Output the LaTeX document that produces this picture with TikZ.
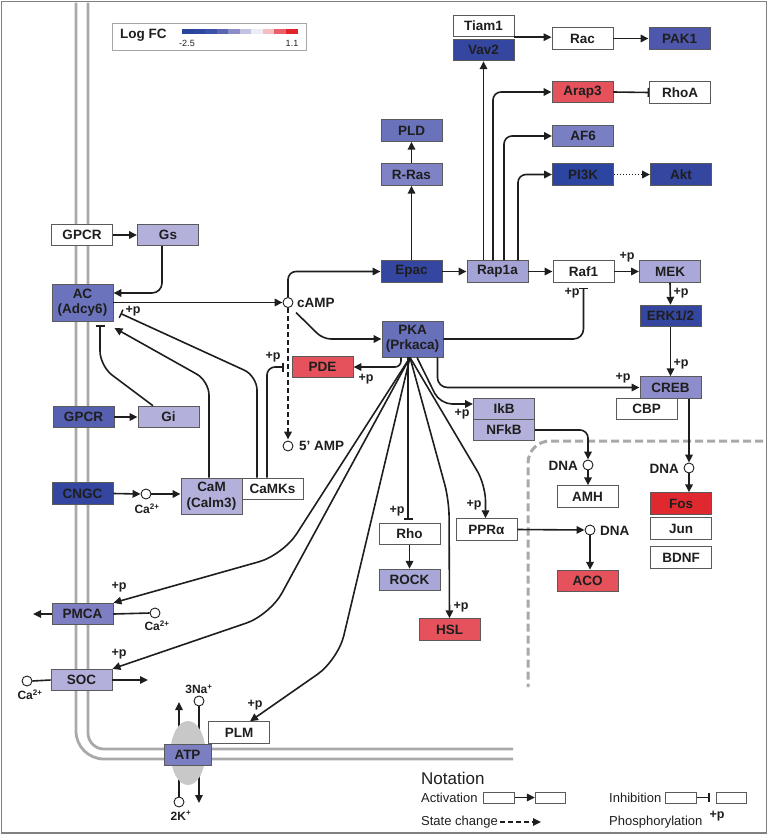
\documentclass[tikz,border=0pt]{standalone}
\usepackage{fontspec}
\setmainfont{Liberation Sans}
\usetikzlibrary{arrows.meta,shapes.geometric}
\definecolor{txt}{HTML}{1E1E1E}
\definecolor{boxline}{HTML}{5A5A5A}
\definecolor{memg}{HTML}{A9A9A9}
\definecolor{ellg}{HTML}{C8C8C8}
\definecolor{cDark}{HTML}{3446A0}
\definecolor{cPI}{HTML}{2C45A0}
\definecolor{cGP}{HTML}{5560B0}
\definecolor{cPAK}{HTML}{4E57AB}
\definecolor{cAC}{HTML}{6B73BC}
\definecolor{cPKA}{HTML}{6870BA}
\definecolor{cPLD}{HTML}{6A72BB}
\definecolor{cRRas}{HTML}{7F83C5}
\definecolor{cAF}{HTML}{7A7EC2}
\definecolor{cPMCA}{HTML}{7E7EC2}
\definecolor{cATP}{HTML}{7B7EC1}
\definecolor{cCREB}{HTML}{8E8DCB}
\definecolor{cRap}{HTML}{A3A3D5}
\definecolor{cMEK}{HTML}{A9A8D8}
\definecolor{cROCK}{HTML}{A8A7D8}
\definecolor{cLight}{HTML}{B3B1DB}
\definecolor{cRed}{HTML}{E5525B}
\definecolor{cFos}{HTML}{E0292E}
\definecolor{Lg1}{HTML}{2A449C}
\definecolor{Lg2}{HTML}{2E479F}
\definecolor{Lg3}{HTML}{3C52A6}
\definecolor{Lg4}{HTML}{5B66B3}
\definecolor{Lg5}{HTML}{8B8CC8}
\definecolor{Lg6}{HTML}{C4C2E2}
\definecolor{Lg7}{HTML}{ECECF5}
\definecolor{Lg8}{HTML}{F5BDC2}
\definecolor{Lg9}{HTML}{EB6068}
\definecolor{Lg10}{HTML}{E3232B}
\tikzset{
  box/.style={draw=boxline, line width=0.9pt, minimum width=61pt, minimum height=21.5pt,
    inner sep=0pt, font=\bfseries\fontsize{13.5}{15.5}\selectfont, text=txt, align=center},
  tall/.style={box, minimum height=36.5pt},
  dot/.style={circle, draw=txt, fill=white, line width=0.9pt, minimum size=10pt, inner sep=0pt},
  lbl/.style={font=\bfseries\fontsize{13.5}{15.5}\selectfont, text=txt, inner sep=0pt},
  plbl/.style={font=\bfseries\fontsize{12.5}{14}\selectfont, text=txt, inner sep=0pt},
  ionlbl/.style={font=\bfseries\fontsize{12}{14}\selectfont, text=txt, inner sep=0pt},
  conn/.style={line width=1.6pt, draw=txt},
  arr/.style={conn, -{Triangle[length=8pt,width=7.5pt]}},
  inh/.style={conn, -{Bar[width=9pt,line width=1.5pt]}},
  statearr/.style={arr, dash pattern=on 5pt off 3pt},
  dotarr/.style={arr, dash pattern=on 1.5pt off 1.5pt},
  membrane/.style={draw=memg, line width=2.8pt},
  nucmem/.style={draw=memg, line width=3pt, dash pattern=on 8pt off 4pt},
  frame/.style={draw=gray, line width=1.2pt},
  nbox/.style={draw=boxline, line width=0.8pt, fill=white, minimum width=30.5pt, minimum height=11pt, inner sep=0pt},
  ntxt/.style={font=\fontsize{13}{15}\selectfont, text=txt, inner sep=0pt, anchor=west}
}
\begin{document}
\begin{tikzpicture}[x=1pt,y=-1pt]
\useasboundingbox (0,0) rectangle (770,835);
\draw[frame] (1.5,1.5) rectangle (766.5,833);

% membranes
\draw[membrane, rounded corners=28pt] (76,2.5) -- (76,759) -- (513,759);
\draw[membrane, rounded corners=16pt] (88,2.5) -- (88,749) -- (513,749);
\draw[nucmem, rounded corners=22pt] (763,441) -- (528,441) -- (528,687);

% legend
\draw[draw=gray!70, line width=1pt, fill=white] (112,23) rectangle (306,50);
\node[lbl, anchor=west] (logfc) at (120,35.5) {Log FC};
\foreach \c [count=\i] in {Lg1,Lg2,Lg3,Lg4,Lg5,Lg6,Lg7,Lg8,Lg9,Lg10}
  \fill[\c] ({182+(\i-1)*11.55},29) rectangle ({182+\i*11.55},34);
\node[font=\fontsize{9}{10}\selectfont, text=txt, inner sep=0pt] (lmin) at (187,43) {-2.5};
\node[font=\fontsize{9}{10}\selectfont, text=txt, inner sep=0pt] (lmax) at (292,43) {1.1};

% ATP pump ions (drawn below the ellipse)
\coordinate (atpc) at (188,753);
\node[dot] (na) at (199,701) {};
\node[ionlbl] (nalbl) at (199,689.5) {3Na\textsuperscript{+}};
\node[dot] (kk) at (179,802) {};
\node[ionlbl] (klbl) at (181,815.5) {2K\textsuperscript{+}};
\coordinate (naout) at (179,702);
\coordinate (kout) at (199,803);
\draw[conn] (na.south) -- (na |- atpc);
\draw[arr] (naout |- atpc) -- (naout);
\draw[conn] (kk.north) -- (kk |- atpc);
\draw[arr] (kout |- atpc) -- (kout);
\node[ellipse, fill=ellg, minimum width=35pt, minimum height=64pt, inner sep=0pt] (ell) at (atpc) {};

% nodes
\node[box, fill=white] (gpcr1) at (82,235) {GPCR};
\node[box, fill=cLight] (gs) at (168,235) {Gs};
\node[box, fill=cAC, minimum height=37pt] (ac) at (82.5,302.5) {AC\\(Adcy6)};
\node[dot] (camp) at (288,302.5) {};
\node[lbl, anchor=west] (camplbl) at (297,302.5) {cAMP};
\node[dot] (amp5) at (288,446) {};
\node[lbl, anchor=west] (amplbl) at (299,446) {5’ AMP};
\node[box, fill=cGP] (gpcr2) at (83.5,417) {GPCR};
\node[box, fill=cLight] (gi) at (168.5,417) {Gi};
\node[box, fill=cDark] (cngc) at (82.5,493.5) {CNGC};
\node[dot] (ca1) at (146,494) {};
\node[ionlbl] (ca1lbl) at (147,509) {Ca\textsuperscript{2+}};
\node[tall, fill=cLight, minimum height=36pt] (cam) at (211.5,496) {CaM\\(Calm3)};
\node[box, fill=white, minimum height=21pt] (camks) at (272.5,488.5) {CaMKs};
\node[box, fill=cRed] (pde) at (322.5,367) {PDE};
\node[box, fill=cDark] (epac) at (411.5,271.5) {Epac};
\node[box, fill=cRap] (rap) at (497.5,271.5) {Rap1a};
\node[box, fill=white] (raf) at (583.5,271.5) {Raf1};
\node[box, fill=cMEK] (mek) at (670,271.5) {MEK};
\node[box, fill=cDark] (erk) at (670.5,316) {ERK1/2};
\node[box, fill=white] (cbp) at (646.5,409) {CBP};
\node[box, fill=cCREB] (creb) at (670.5,387.5) {CREB};
\node[tall, fill=cPKA, minimum height=36pt] (pka) at (412.5,339) {PKA\\(Prkaca)};
\node[box, fill=cLight, minimum height=21pt] (ikb) at (504,409) {IkB};
\node[box, fill=cLight, minimum height=21pt] (nfkb) at (504,430) {NFkB};
\node[box, fill=white] (rho) at (409.5,534) {Rho};
\node[box, fill=cROCK] (rock) at (409.5,580) {ROCK};
\node[box, fill=cRed] (hsl) at (449.5,629.5) {HSL};
\node[box, fill=white] (ppr) at (486.5,529.5) {PPRα};
\node[dot] (dna3) at (590,530) {};
\node[lbl, anchor=west] (dna3lbl) at (600,531) {DNA};
\node[box, fill=cRed] (aco) at (587.5,581) {ACO};
\node[box, fill=white] (amh) at (587.5,496.5) {AMH};
\node[dot] (dna1) at (588,465) {};
\node[lbl, anchor=east] (dna1lbl) at (578,466) {DNA};
\node[dot] (dna2) at (689,468) {};
\node[lbl, anchor=east] (dna2lbl) at (679,469) {DNA};
\node[box, fill=cFos] (fos) at (681,503.5) {Fos};
\node[box, fill=white] (jun) at (681,528.5) {Jun};
\node[box, fill=white] (bdnf) at (681,557.5) {BDNF};
\node[box, fill=white] (tiam) at (483.5,26) {Tiam1};
\node[box, fill=cDark] (vav) at (483.5,50) {Vav2};
\node[box, fill=white] (rac) at (582.5,38.5) {Rac};
\node[box, fill=cPAK] (pak) at (679.5,38.5) {PAK1};
\node[box, fill=cRed] (arap) at (582.5,92) {Arap3};
\node[box, fill=white] (rhoa) at (680,92.5) {RhoA};
\node[box, fill=cAF] (af6) at (583,136) {AF6};
\node[box, fill=cPI] (pi3k) at (583,174.5) {PI3K};
\node[box, fill=cDark] (akt) at (681,174.5) {Akt};
\node[box, fill=cPLD] (pld) at (411.5,130.5) {PLD};
\node[box, fill=cRRas] (rras) at (411.5,174.5) {R-Ras};
\node[box, fill=cPMCA] (pmca) at (82.5,614) {PMCA};
\node[box, fill=cLight] (soc) at (81.5,680) {SOC};
\node[box, fill=cATP, minimum width=47pt] (atp) at (187.5,755) {ATP};
\node[box, fill=white] (plm) at (239,732.5) {PLM};
\node[dot] (ca2) at (155,613) {};
\node[ionlbl] (ca2lbl) at (157,625.5) {Ca\textsuperscript{2+}};
\node[dot] (ca3) at (27,681) {};
\node[ionlbl] (ca3lbl) at (30,694.5) {Ca\textsuperscript{2+}};
\coordinate (pmcaout) at (33,614);
\coordinate (socout) at (148,680);

% left side connectors
\draw[arr] (gpcr1.east) -- (gs.west);
\draw[arr, rounded corners=10pt] ([xshift=-6pt]gs.south) -- (162,293) -- ([yshift=9.5pt]ac.east);
\draw[arr] (ac.east) -- (camp.west);
\draw[arr, rounded corners=8pt] (camp.north) -- (288,271.5) -- (epac.west);
\draw[arr, rounded corners=8pt] ([shift={(8pt,-10pt)}]camp.center) -- (323,339) -- (pka.west);
\draw[statearr] (camp.south) -- ([yshift=1pt]amp5.north);
\draw[arr] (gpcr2.east) -- (gi.west);
\draw[inh, rounded corners=15pt] ([xshift=-15.5pt]gi.north) -- (100,366) -- ([shift={(17.5pt,-4pt)}]ac.south);
\draw[arr] (cngc.east) -- (ca1.west);
\draw[arr] (ca1.east) -- (ca1.east -| cam.west);
\draw[arr, rounded corners=14pt] ([xshift=-2.5pt]cam.north) -- (209,381) -- ([shift={(1pt,-6.5pt)}]ac.south east);
\draw[inh, rounded corners=14pt] ([xshift=-15.5pt]camks.north) -- (257,376) -- ([shift={(7pt,8pt)}]ac.south east);
\draw[inh, rounded corners=8pt] ([xshift=-5.5pt]camks.north) -- (267,367) -- ([xshift=-8pt]pde.west);
\draw[arr] (pmca.west) -- (pmcaout);
\draw[conn] (pmca.east) -- (ca2.west);
\draw[conn] (ca3.east) -- (soc.west);
\draw[arr] (soc.east) -- (socout);

% PKA connectors
\coordinate (fan) at ([xshift=-2.5pt]pka.south);
\draw[arr, rounded corners=6pt] ([xshift=-11.5pt]pka.south) |- (pde.east);
\draw[arr, rounded corners=10pt] ([xshift=-6pt]pka.south east) |- (creb.west);
\draw[inh, rounded corners=10pt] (pka.east) -| ([yshift=-5pt]raf.south);
\draw[arr, rounded corners=12pt] ([xshift=4.5pt]pka.south) -- (440,404) -- ([yshift=5pt]ikb.west);
\draw[arr, rounded corners=25pt] (fan) -- (283,555) -- (pmca.north east);
\draw[arr, rounded corners=25pt] (fan) -- (270,615) -- (soc.north east);
\draw[arr, rounded corners=25pt] (fan) -- (338,660) -- ([xshift=11pt]plm.north);
\draw[inh] ([xshift=-4.5pt]pka.south) -- ([shift={(-1.5pt,3pt)}]rho.north);
\draw[arr, rounded corners=16pt] (fan) -- (449,500) -- (hsl.north);
\draw[arr, rounded corners=16pt] (fan) -- (485.5,485) -- ([xshift=-1pt]ppr.north);
\draw[arr] (rho.south) -- (rock.north);

% right side connectors
\draw[arr] (epac.east) -- (rap.west);
\draw[arr] (epac.north) -- (rras.south);
\draw[arr] (rras.north) -- (pld.south);
\draw[arr] (rap.east) -- (raf.west);
\draw[arr] (raf.east) -- (mek.west);
\draw[arr] (mek.south) -- (erk.north);
\draw[arr] (erk.south) -- (creb.north);
\draw[arr] (rap.north -| vav.south) -- (vav.south);
\draw[arr, rounded corners=8pt] ([xshift=-4.5pt]rap.north) |- (arap.west);
\draw[arr, rounded corners=8pt] ([xshift=6.5pt]rap.north) |- (af6.west);
\draw[arr, rounded corners=8pt] ([xshift=20.5pt]rap.north) |- (pi3k.west);
\draw[arr] (tiam.south east) -- (tiam.south east -| rac.west);
\draw[arr] (rac.east) -- (pak.west);
\draw[inh] (arap.east) -- (rhoa.west);
\draw[dotarr] (pi3k.east) -- (akt.west);
\draw[arr] (creb.south -| dna2) -- (dna2.north);
\draw[arr] (dna2.south) -- (dna2.south |- fos.north);
\draw[arr, rounded corners=8pt] (nfkb.east) -| (dna1.north);
\draw[arr] (dna1.south) -- (dna1.south |- amh.north);
\draw[arr] (ppr.east) -- (dna3.west);
\draw[arr] (dna3.south) -- (dna3.south |- aco.north);

% +p labels
\node[plbl] (p1) at (133,311) {+p};
\node[plbl] (p2) at (273,357) {+p};
\node[plbl] (p3) at (366,379) {+p};
\node[plbl] (p4) at (572,293) {+p};
\node[plbl] (p5) at (627,257) {+p};
\node[plbl] (p6) at (681,293) {+p};
\node[plbl] (p7) at (681,364) {+p};
\node[plbl] (p8) at (623,378) {+p};
\node[plbl] (p9) at (462,414) {+p};
\node[plbl] (p10) at (397,511) {+p};
\node[plbl] (p11) at (474,505) {+p};
\node[plbl] (p12) at (461,607) {+p};
\node[plbl] (p13) at (119,587) {+p};
\node[plbl] (p14) at (119,654) {+p};
\node[plbl] (p15) at (255,705) {+p};

% notation
\node[ntxt, font=\fontsize{17}{19}\selectfont] (nt) at (421,778) {Notation};
\node[ntxt] (nact) at (421,798) {Activation};
\node[ntxt] (nstate) at (421,822) {State change};
\node[ntxt] (ninh) at (609,798) {Inhibition};
\node[ntxt] (nphos) at (609,822) {Phosphorylation};
\node[plbl] (np) at (717,816) {+p};
\node[nbox] (na1) at (499,797.5) {};
\node[nbox] (na2) at (550.5,797.5) {};
\node[nbox] (ni1) at (681,797.5) {};
\node[nbox] (ni2) at (731.5,797.5) {};
\draw[arr] (na1.east) -- (na2.west);
\draw[inh] (ni1.east) -- ([xshift=-6pt]ni2.west);
\coordinate (s1) at (500,822);
\coordinate (s2) at (541,822);
\draw[statearr] (s1) -- (s2);
\end{tikzpicture}
\end{document}
